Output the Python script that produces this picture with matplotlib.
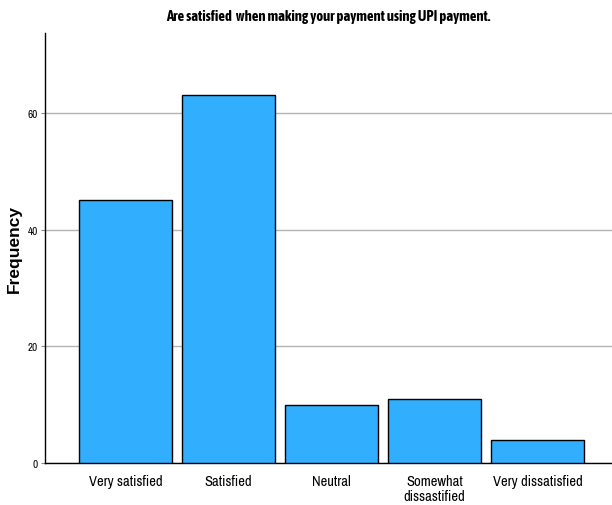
import matplotlib
matplotlib.use("Agg")
import matplotlib.pyplot as plt

# answer categories and counts
categories = ["Very satisfied", "Satisfied", "Neutral", "Somewhat\ndissastified", "Very dissatisfied"]
counts = [45, 63, 10, 11, 4]
yticks = [0, 20, 40, 60]

narrow = ["Archivo Narrow", "DejaVu Sans"]
narrow_bold = ["Asap Condensed", "DejaVu Sans"]

fig = plt.figure(figsize=(6.12, 5.06), dpi=100)
ax = fig.add_axes([0.0735, 0.083, 0.9265, 0.85])

ax.bar(range(len(counts)), counts, width=0.903, color="#31aefd",
       edgecolor="black", linewidth=1, zorder=3)

ax.set_xlim(-0.78, 4.72)
ax.set_ylim(0, 73.7)
ax.set_yticks(yticks)
ax.set_yticklabels([str(t) for t in yticks], family=narrow, fontsize=8)
ax.set_xticks(range(len(categories)))
ax.set_xticklabels(categories, family=narrow, fontsize=10.5, linespacing=1.1)
ax.tick_params(axis="x", length=0, pad=8)
ax.tick_params(axis="y", length=3, width=0.8, color="#888888", pad=2)

ax.grid(axis="y", color="#b4b4b4", linewidth=1, zorder=0)
for s in ["top", "right"]:
    ax.spines[s].set_visible(False)
ax.spines["left"].set_linewidth(1)
ax.spines["bottom"].set_linewidth(1)

ax.set_ylabel("Frequency", fontsize=12.5, fontweight="bold", family="Liberation Sans")
ax.yaxis.set_label_coords(-0.04, 0.5)
ax.set_title("Are satisfied  when making your payment using UPI payment.",
             family=narrow_bold, fontweight="bold", fontsize=10.5, y=1.0, pad=9)

fig.savefig("out.png", dpi=100)
